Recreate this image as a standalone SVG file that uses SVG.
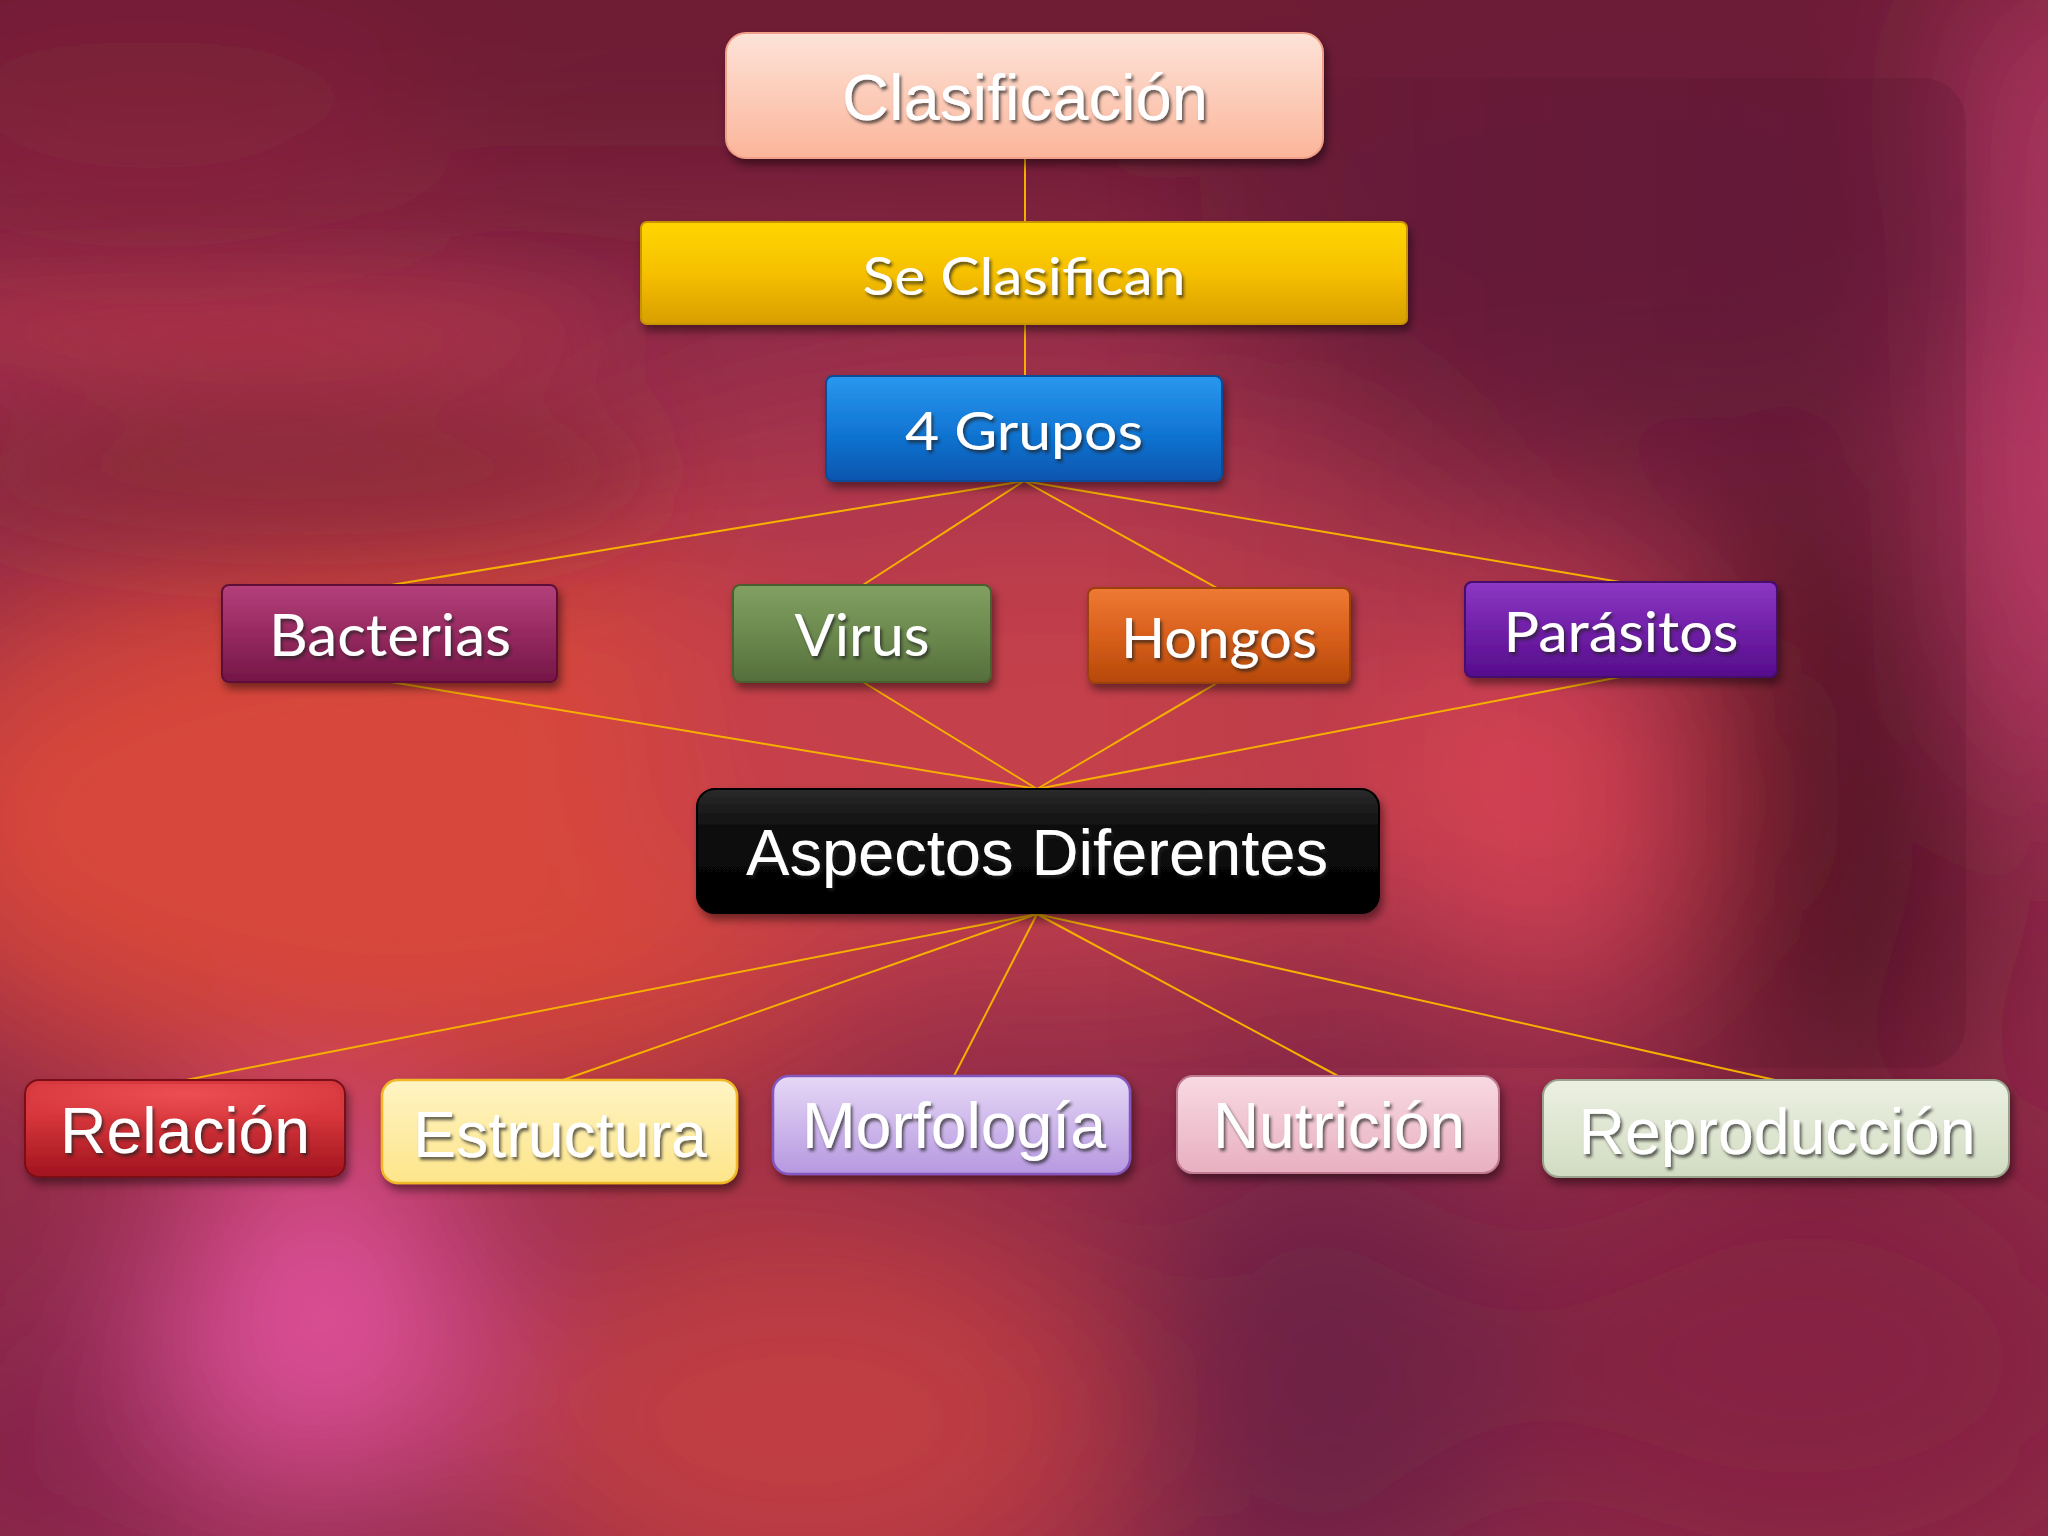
<svg xmlns="http://www.w3.org/2000/svg" width="2048" height="1536" viewBox="0 0 2048 1536">
<defs>
<filter id="bgblur" x="-30%" y="-30%" width="160%" height="160%"><feGaussianBlur stdDeviation="90"/></filter>
<filter id="bgblur2" x="-30%" y="-150%" width="160%" height="400%"><feGaussianBlur stdDeviation="45"/></filter>
<filter id="sh" x="-10%" y="-20%" width="120%" height="150%"><feDropShadow dx="3" dy="6" stdDeviation="4" flood-color="#000" flood-opacity="0.45"/></filter>
<filter id="tsh" x="-10%" y="-20%" width="120%" height="150%"><feDropShadow dx="2" dy="3" stdDeviation="1.5" flood-color="#222" flood-opacity="0.7"/></filter>
<linearGradient id="gPeach" x1="0" y1="0" x2="0" y2="1"><stop offset="0" stop-color="#fde3d8"/><stop offset="1" stop-color="#fbb59a"/></linearGradient>
<linearGradient id="gGold" x1="0" y1="0" x2="0" y2="1"><stop offset="0" stop-color="#ffd600"/><stop offset="0.5" stop-color="#f6c000"/><stop offset="1" stop-color="#d89e00"/></linearGradient>
<linearGradient id="gBlue" x1="0" y1="0" x2="0" y2="1"><stop offset="0" stop-color="#2a98ee"/><stop offset="0.5" stop-color="#1278d6"/><stop offset="1" stop-color="#0a55ae"/></linearGradient>
<linearGradient id="gMag" x1="0" y1="0" x2="0" y2="1"><stop offset="0" stop-color="#b4407a"/><stop offset="0.5" stop-color="#962a60"/><stop offset="1" stop-color="#741646"/></linearGradient>
<linearGradient id="gGreen" x1="0" y1="0" x2="0" y2="1"><stop offset="0" stop-color="#82a062"/><stop offset="0.5" stop-color="#6c8a4e"/><stop offset="1" stop-color="#566e3c"/></linearGradient>
<linearGradient id="gOrange" x1="0" y1="0" x2="0" y2="1"><stop offset="0" stop-color="#ee7a34"/><stop offset="0.5" stop-color="#d8601c"/><stop offset="1" stop-color="#b64808"/></linearGradient>
<linearGradient id="gPurple" x1="0" y1="0" x2="0" y2="1"><stop offset="0" stop-color="#8c38c4"/><stop offset="0.5" stop-color="#7020a8"/><stop offset="1" stop-color="#560c8a"/></linearGradient>
<linearGradient id="gBlack" x1="0" y1="0" x2="0" y2="1"><stop offset="0" stop-color="#2a2a2a"/><stop offset="0.35" stop-color="#0c0c0c"/><stop offset="1" stop-color="#000"/></linearGradient>
<linearGradient id="gRed" x1="0" y1="0" x2="0" y2="1"><stop offset="0" stop-color="#d6383e"/><stop offset="0.35" stop-color="#d8373c"/><stop offset="1" stop-color="#a0141e"/></linearGradient>
<radialGradient id="gRedHi" cx="0.5" cy="0.2" r="0.6"><stop offset="0" stop-color="#ee5055" stop-opacity="0.9"/><stop offset="1" stop-color="#ee5055" stop-opacity="0"/></radialGradient>
<linearGradient id="gYellow" x1="0" y1="0" x2="0" y2="1"><stop offset="0" stop-color="#fff4c4"/><stop offset="1" stop-color="#fde58a"/></linearGradient>
<linearGradient id="gLav" x1="0" y1="0" x2="0" y2="1"><stop offset="0" stop-color="#e6d8f6"/><stop offset="1" stop-color="#b698e0"/></linearGradient>
<linearGradient id="gPink" x1="0" y1="0" x2="0" y2="1"><stop offset="0" stop-color="#f8dae2"/><stop offset="1" stop-color="#e8afc0"/></linearGradient>
<linearGradient id="gSage" x1="0" y1="0" x2="0" y2="1"><stop offset="0" stop-color="#ecf0e2"/><stop offset="1" stop-color="#d2dcc2"/></linearGradient>
<linearGradient id="gFrame" x1="0" y1="0" x2="1" y2="0"><stop offset="0" stop-color="#3a0a1e" stop-opacity="0"/><stop offset="0.4" stop-color="#3a0a1e" stop-opacity="0.08"/><stop offset="1" stop-color="#3a0a1e" stop-opacity="0.14"/></linearGradient>
<style>
.conn{stroke:#f5b000;stroke-width:2;fill:none}
.ar{font-family:"Liberation Sans",Arial,sans-serif;fill:#fff;text-anchor:middle;filter:url(#tsh)}
.ca{font-family:Lato,"Open Sans",sans-serif;fill:#fff;text-anchor:middle;filter:url(#tsh)}
</style>
</defs>

<g id="background">
<rect width="2048" height="1536" fill="#8e2a48"/>
<g filter="url(#bgblur)">
<rect x="-200" y="-200" width="2448" height="430" fill="#6e1c36"/>
<ellipse cx="150" cy="160" rx="300" ry="120" fill="#84223a"/>
<ellipse cx="1000" cy="560" rx="500" ry="200" fill="#a8344e"/>
<ellipse cx="420" cy="820" rx="560" ry="290" fill="#d8463a"/>
<ellipse cx="1050" cy="760" rx="420" ry="230" fill="#c4404c"/>
<ellipse cx="1800" cy="1360" rx="320" ry="220" fill="#862442"/>
<ellipse cx="800" cy="1420" rx="320" ry="220" fill="#c03e42"/>
<ellipse cx="1320" cy="1380" rx="200" ry="260" fill="#6e2044"/>
<ellipse cx="320" cy="1320" rx="150" ry="180" fill="#e4529e"/>
<ellipse cx="40" cy="1460" rx="160" ry="140" fill="#862448"/>
<ellipse cx="1546" cy="800" rx="150" ry="210" fill="#e64a5a"/>
<ellipse cx="1830" cy="800" rx="140" ry="330" fill="#581628"/>
<ellipse cx="2070" cy="380" rx="90" ry="420" fill="#c84070"/>
<ellipse cx="1620" cy="260" rx="420" ry="230" fill="#6a1d3a"/>
</g>
<g filter="url(#bgblur2)">
<ellipse cx="220" cy="330" rx="400" ry="34" fill="#bc384a" opacity="0.9"/>
<ellipse cx="300" cy="470" rx="360" ry="80" fill="#8a2838" opacity="0.7"/>
</g>
<rect x="1100" y="78" width="866" height="990" rx="44" fill="url(#gFrame)"/>
</g>

<g id="connectors">
<line class="conn" x1="1025" y1="158" x2="1025" y2="222"/>
<line class="conn" x1="1025" y1="324" x2="1025" y2="376"/>
<line class="conn" x1="1024" y1="481" x2="391" y2="585"/>
<line class="conn" x1="1024" y1="481" x2="863" y2="585"/>
<line class="conn" x1="1024" y1="481" x2="1217" y2="588"/>
<line class="conn" x1="1024" y1="481" x2="1620" y2="582"/>
<line class="conn" x1="391" y1="682" x2="1037" y2="789"/>
<line class="conn" x1="863" y1="682" x2="1037" y2="789"/>
<line class="conn" x1="1217" y1="683" x2="1037" y2="789"/>
<line class="conn" x1="1620" y1="677" x2="1037" y2="789"/>
<line class="conn" x1="1037" y1="914" x2="186" y2="1080"/>
<line class="conn" x1="1037" y1="914" x2="563" y2="1080"/>
<line class="conn" x1="1037" y1="914" x2="954" y2="1076"/>
<line class="conn" x1="1037" y1="914" x2="1338" y2="1076"/>
<line class="conn" x1="1037" y1="914" x2="1775" y2="1080"/>
</g>

<g id="n-clasificacion">
<rect x="726" y="33" width="597" height="125" rx="20" fill="url(#gPeach)" stroke="#f0a088" stroke-width="2" filter="url(#sh)"/>
<text class="ar" x="1025" y="120" font-size="64" textLength="366" lengthAdjust="spacingAndGlyphs">Clasificación</text>
</g>

<g id="n-seclasifican">
<rect x="641" y="222" width="766" height="102" rx="6" fill="url(#gGold)" stroke="#c89400" stroke-width="2" filter="url(#sh)"/>
<text class="ca" x="1024" y="295" font-size="53" textLength="323" lengthAdjust="spacingAndGlyphs">Se Clasifican</text>
</g>

<g id="n-grupos">
<rect x="826" y="376" width="396" height="105" rx="7" fill="url(#gBlue)" stroke="#0a4c98" stroke-width="2" filter="url(#sh)"/>
<text class="ca" x="1024" y="450" font-size="53" textLength="238" lengthAdjust="spacingAndGlyphs">4 Grupos</text>
</g>

<g id="n-bacterias">
<rect x="222" y="585" width="335" height="97" rx="7" fill="url(#gMag)" stroke="#5e1038" stroke-width="2" filter="url(#sh)"/>
<text class="ca" x="390" y="656" font-size="58" textLength="242" lengthAdjust="spacingAndGlyphs">Bacterias</text>
</g>

<g id="n-virus">
<rect x="733" y="585" width="258" height="97" rx="7" fill="url(#gGreen)" stroke="#48602e" stroke-width="2" filter="url(#sh)"/>
<text class="ca" x="862" y="656" font-size="58" textLength="135" lengthAdjust="spacingAndGlyphs">Virus</text>
</g>

<g id="n-hongos">
<rect x="1088" y="588" width="262" height="95" rx="7" fill="url(#gOrange)" stroke="#9a4008" stroke-width="2" filter="url(#sh)"/>
<text class="ca" x="1219" y="658" font-size="57" textLength="196" lengthAdjust="spacingAndGlyphs">Hongos</text>
</g>

<g id="n-parasitos">
<rect x="1465" y="582" width="312" height="95" rx="7" fill="url(#gPurple)" stroke="#44086e" stroke-width="2" filter="url(#sh)"/>
<text class="ca" x="1621" y="652" font-size="56" textLength="235" lengthAdjust="spacingAndGlyphs">Parásitos</text>
</g>

<g id="n-aspectos">
<rect x="697" y="789" width="682" height="124" rx="18" fill="url(#gBlack)" stroke="#000" stroke-width="2" filter="url(#sh)"/>
<text class="ar" x="1037" y="875" font-size="64" textLength="582" lengthAdjust="spacingAndGlyphs">Aspectos Diferentes</text>
</g>

<g id="n-relacion">
<rect x="25" y="1080" width="320" height="97" rx="14" fill="url(#gRed)" stroke="#7a0e18" stroke-width="2" filter="url(#sh)"/>
<rect x="30" y="1084" width="310" height="50" rx="12" fill="url(#gRedHi)"/>
<text class="ar" x="185" y="1153" font-size="65" textLength="250" lengthAdjust="spacingAndGlyphs">Relación</text>
</g>

<g id="n-estructura">
<rect x="382" y="1080" width="355" height="103" rx="16" fill="url(#gYellow)" stroke="#f0b828" stroke-width="2.5" filter="url(#sh)"/>
<text class="ar" x="560" y="1157" font-size="65" textLength="294" lengthAdjust="spacingAndGlyphs">Estructura</text>
</g>

<g id="n-morfologia">
<rect x="773" y="1076" width="357" height="98" rx="16" fill="url(#gLav)" stroke="#8456c0" stroke-width="2.5" filter="url(#sh)"/>
<text class="ar" x="954" y="1148" font-size="64" textLength="304" lengthAdjust="spacingAndGlyphs">Morfología</text>
</g>

<g id="n-nutricion">
<rect x="1177" y="1076" width="322" height="97" rx="16" fill="url(#gPink)" stroke="#c07a92" stroke-width="2" filter="url(#sh)"/>
<text class="ar" x="1339" y="1148" font-size="64" textLength="252" lengthAdjust="spacingAndGlyphs">Nutrición</text>
</g>

<g id="n-reproduccion">
<rect x="1543" y="1080" width="466" height="97" rx="16" fill="url(#gSage)" stroke="#9aa48c" stroke-width="2" filter="url(#sh)"/>
<text class="ar" x="1777" y="1154" font-size="64" textLength="397" lengthAdjust="spacingAndGlyphs">Reproducción</text>
</g>
</svg>
